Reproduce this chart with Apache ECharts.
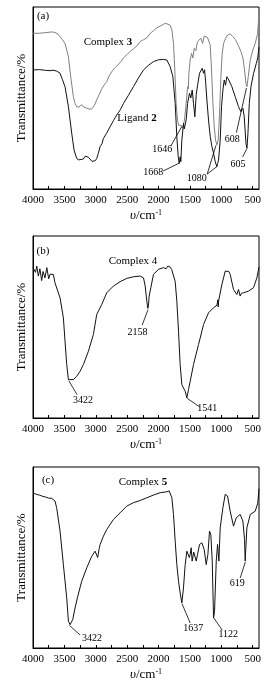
<!DOCTYPE html>
<html><head><meta charset="utf-8">
<script src="https://cdn.jsdelivr.net/npm/echarts@6/dist/echarts.min.js"></script>
<style>html,body{margin:0;padding:0;background:#fff}#c{width:278px;height:688px}</style>
</head><body><div id="c"></div>
<script>
// ---------- data ----------
const xTickLabels = [4000, 3500, 3000, 2500, 2000, 1500, 1000, 500];
const xTickMarks = [4000,3750,3500,3250,3000,2750,2500,2250,2000,1750,1500,1250,1000,750,500];

const complex3Wn = [4000,3900,3835,3700,3649,3600,3569,3530,3490,3436,3399,3357,3330,3304,3270,3224,3190,3144,3100,3064,3020,2985,2950,2905,2860,2825,2790,2745,2700,2666,2600,2559,2500,2453,2400,2347,2293,2240,2187,2134,2081,2028,1974,1930,1895,1850,1815,1788,1762,1741,1720,1698,1680,1666,1650,1640,1629,1613,1600,1587,1560,1538,1525,1517,1496,1475,1453,1432,1406,1379,1352,1326,1299,1273,1246,1220,1198,1177,1156,1134,1113,1092,1071,1050,1028,1007,986,964,933,901,859,816,774,731,688,656,630,608,592,571,539,497,460,422,400];
const complex3T  = [85.5,85.6,85.8,86.3,86,85,84.6,82,80,72.7,61.7,50.7,47,45.2,45,46.3,45,44.5,43.8,44,46,49,51.6,55,57.5,59,62,64.5,66.5,67.5,70,72,74,75.5,77,78.5,81,82,83,85.5,87,88.5,89.5,90.3,91,90.6,90,87.4,80,65.4,47,37.9,35,34.2,36,35,34.6,33.3,36,37.9,47,56.2,55,63.6,70.9,74.5,72,77.3,76,81,82,82.8,80,84,84.6,83.3,84,79,65.4,47,34.2,26.9,24.2,26.9,41.6,61.7,74.5,80,82.8,84.6,85.2,83.7,82,79,75.5,72,65.4,58,56.2,61.7,70.9,76.4,80,85.5,96];

const ligand2Wn = [4000,3900,3800,3729,3680,3623,3569,3530,3490,3436,3383,3346,3304,3270,3250,3197,3170,3144,3120,3091,3060,3038,3010,2985,2960,2931,2900,2878,2830,2772,2720,2666,2610,2559,2480,2400,2320,2240,2160,2081,2000,1921,1868,1815,1772,1735,1709,1687,1671,1655,1645,1629,1602,1590,1576,1560,1538,1507,1486,1464,1443,1422,1400,1374,1347,1326,1305,1283,1267,1251,1230,1204,1177,1150,1124,1097,1071,1060,1044,1018,997,975,954,933,912,890,869,832,779,726,688,656,635,608,592,576,555,528,486,443,420,406,400];
const ligand2T  = [65.4,65.6,65.2,65,65.3,64.8,63.6,60,56.2,45.2,30.6,21.4,16.8,16,15.9,16.5,18,18.5,17.5,16.5,15.2,15,15.5,16.8,19.5,23.3,25,27.8,30.5,34.2,37.5,40.7,43.5,47,51.5,56.2,61,65.4,68,70,71,71.2,70.9,67.2,61.7,47,28.8,17.8,14.1,17.8,15,26.9,36.1,33,32.4,38,47,52.6,50,54.4,47,39.7,52,58,63.6,64.5,66.3,63.6,65.5,59.3,48.9,37.9,28.8,23.3,19.6,15,12.3,14,15.9,26.9,45.2,54.4,59.9,57,61.7,60.5,59.9,56.2,50.7,45.2,42.5,44.3,39.7,25.1,22.3,30.5,47,56.2,63.6,69,72,76.4,78];

const complex4Wn = [4000,3960,3940,3915,3890,3862,3840,3810,3780,3750,3729,3700,3676,3650,3623,3569,3516,3490,3463,3436,3410,3357,3304,3250,3197,3117,3038,2985,2960,2905,2825,2719,2612,2506,2400,2293,2240,2213,2187,2171,2160,2150,2123,2081,2001,1921,1880,1850,1815,1790,1762,1735,1709,1682,1656,1629,1603,1576,1549,1523,1496,1443,1363,1283,1204,1124,1070,1055,1050,1044,991,938,912,880,859,806,753,726,700,680,647,567,487,434,400];
const complex4T  = [82.6,80,83.5,78,82,75.5,80.5,77,82.6,76.5,79,78,78.9,74.3,73.4,66,55,42.2,29.4,21.1,20.2,21.1,22.9,25.7,29.4,36.7,45.9,56.9,57.5,62.4,68.8,72.5,74.9,76.7,77.6,78,77,72.5,64.2,60.2,62,67,71.6,78.9,81.7,82.6,82,83.5,82.9,81.5,80.7,75,64.2,47.7,29.4,18.3,16.5,14.7,11,15.6,20.2,29.4,40.4,51.4,57.8,60.6,62,65,61,64.2,73.4,80.7,81.7,80.5,78.9,70.6,67.9,70.6,67,68.5,68.8,69.7,71.6,77,83];

const complex5Wn = [4000,3950,3900,3862,3800,3780,3750,3700,3676,3650,3623,3569,3516,3463,3436,3410,3367,3330,3293,3224,3144,3064,3011,2985,2970,2958,2945,2931,2878,2825,2719,2612,2506,2400,2293,2187,2081,1974,1868,1830,1815,1788,1762,1735,1709,1682,1656,1629,1603,1576,1549,1523,1510,1496,1480,1465,1453,1440,1427,1400,1379,1347,1310,1273,1241,1214,1188,1167,1145,1124,1108,1081,1060,1039,1018,975,938,901,859,806,763,700,657,630,620,610,593,539,460,420,400];
const complex5T  = [85.8,84.9,84.5,84,83.4,84.2,82.8,82.7,82.5,81.2,77.5,64.6,46,27.7,14.8,12.9,15.7,22.1,27.7,36.9,44.3,50.7,53.5,54.4,50,48.9,55,57.2,61.8,65.5,71,74.7,78.4,80.3,81.5,83,84.5,85.8,86.3,86.8,85.8,83,73.8,59,46.1,36.9,30.4,24.9,33.2,46.1,53.5,54.4,50,51.7,55.4,48,48,53,52.6,48,51.7,57.2,58.1,54.4,46.1,51.7,64.6,62.7,48,16.6,20.3,48,57.2,48,66.4,77.5,84.9,84,75.6,67.3,71.9,73.8,70.1,60,48,55,66.4,73.8,75.6,80,88];

// peak labels: [text, wn, T]
const labelsA = [['1646', 1943, 22], ['1668', 2086, 9.3], ['1080', 1390, 6], ['608', 826, 27], ['605', 735, 13.7]];
const labelsB = [['2158', 2337, 47.3], ['3422', 3203, 9.9], ['1541', 1226, 5.5]];
const labelsC = [['3422', 3059, 5.5], ['1637', 1448, 11], ['1122', 890, 7.7], ['619', 746, 35.9]];
// leader lines: [start wn, start T, end wn, end T]
const leadersA = [[1805, 23.6, 1629, 34.4], [1927, 9.9, 1665, 14.3], [1225, 8.2, 1085, 24], [1225, 8.2, 1065, 12.5], [760, 31, 600, 55.5], [660, 17.6, 596, 22]];
const leadersB = [[2261, 51, 2168, 59.5], [3298, 12.8, 3430, 20.5], [1341, 6, 1544, 10.8]];
const leadersC = [[3250, 7.2, 3420, 12.5], [1496, 13.8, 1627, 24.5], [986, 9.9, 1120, 16.6], [699, 38.7, 618, 47.5]];

// ---------- chart ----------
const FONT = '"Liberation Serif","Times New Roman",serif';
const zip = (a, b) => a.map((v, i) => [v, b[i]]);
const grids = [
  {left: 33, right: 19, top: 7, height: 182},
  {left: 33, right: 19, top: 236, height: 182},
  {left: 33, right: 19, top: 467, height: 181}
].map(g => Object.assign(g, {show: true, borderColor: '#000', borderWidth: 1, backgroundColor: '#fff'}));

const xAxes = [0,1,2].map(i => ({
  gridIndex: i, type: 'value', min: 400, max: 4000, inverse: true,
  axisLine: {show: true, lineStyle: {color: '#000', width: 1}},
  axisTick: {show: true, inside: true, length: 3, customValues: xTickMarks, lineStyle: {color: '#000'}},
  axisLabel: {customValues: xTickLabels, color: '#000', fontFamily: FONT, fontSize: 11, margin: 6,
    formatter: v => String(v)},
  splitLine: {show: false},
  name: '{i|\u03C5}/cm{s|-1}', nameLocation: 'middle', nameGap: 20,
  nameTextStyle: {color: '#000', fontFamily: FONT, fontSize: 13,
    rich: {i: {fontStyle: 'italic', fontFamily: FONT, fontSize: 13, color: '#000'},
           s: {fontFamily: FONT, fontSize: 8, color: '#000', verticalAlign: 'top', padding: [0, 0, 6, 0]}}}
}));
const yAxes = [0,1,2].map(i => ({
  gridIndex: i, type: 'value', min: 0, max: 100,
  axisLine: {show: true, lineStyle: {color: '#000'}},
  axisTick: {show: false}, axisLabel: {show: false}, splitLine: {show: false},
  name: 'Transmittance/%', nameLocation: 'middle', nameGap: 5,
  nameTextStyle: {color: '#000', fontFamily: FONT, fontSize: 13}
}));

function annot(labels, leaders) {
  return {
    markLine: {silent: true, symbol: ['none', 'none'], animation: false,
      lineStyle: {color: '#000', width: 0.8, type: 'solid'}, label: {show: false},
      data: leaders.map(p => [{coord: [p[0], p[1]]}, {coord: [p[2], p[3]]}])},
    markPoint: {silent: true, animation: false, symbol: 'circle', symbolSize: 0.1,
      itemStyle: {color: 'rgba(0,0,0,0)'},
      label: {show: true, position: 'inside', color: '#000', fontFamily: FONT, fontSize: 10,
        formatter: p => p.data.txt},
      data: labels.map(p => ({coord: [p[1], p[2]], txt: p[0]}))}
  };
}
function line(name, xi, wn, t, color, labels, leaders) {
  return Object.assign({
    name, type: 'line', xAxisIndex: xi, yAxisIndex: xi, data: zip(wn, t),
    showSymbol: false, symbol: 'none', smooth: false, clip: true,
    lineStyle: {color, width: 1}, animation: false
  }, labels ? annot(labels, leaders) : {});
}

const txt = (x, y, rtext) => ({type: 'text', x, y, style: {text: rtext, fill: '#000',
  font: '11px ' + FONT, align: 'center', verticalAlign: 'middle',
  rich: {b: {fontWeight: 'bold', fontFamily: FONT, fontSize: 11, fill: '#000'}}}});

const option = {
  animation: false,
  backgroundColor: '#fff',
  grid: grids, xAxis: xAxes, yAxis: yAxes,
  series: [
    line('Complex 3', 0, complex3Wn, complex3T, '#808080', null, null),
    line('Ligand 2', 0, ligand2Wn, ligand2T, '#111', labelsA, leadersA),
    line('Complex 4', 1, complex4Wn, complex4T, '#111', labelsB, leadersB),
    line('Complex 5', 2, complex5Wn, complex5T, '#111', labelsC, leadersC)
  ],
  graphic: [
    txt(43, 16, '(a)'), txt(108, 42, 'Complex {b|3}'), txt(137, 118, 'Ligand {b|2}'),
    txt(43, 251, '(b)'), txt(133, 261, 'Complex 4'),
    txt(48, 480, '(c)'), txt(143, 482, 'Complex {b|5}')
  ]
};
const chart = echarts.init(document.getElementById('c'), null, {renderer: 'canvas'});
chart.setOption(option);
</script></body></html>
